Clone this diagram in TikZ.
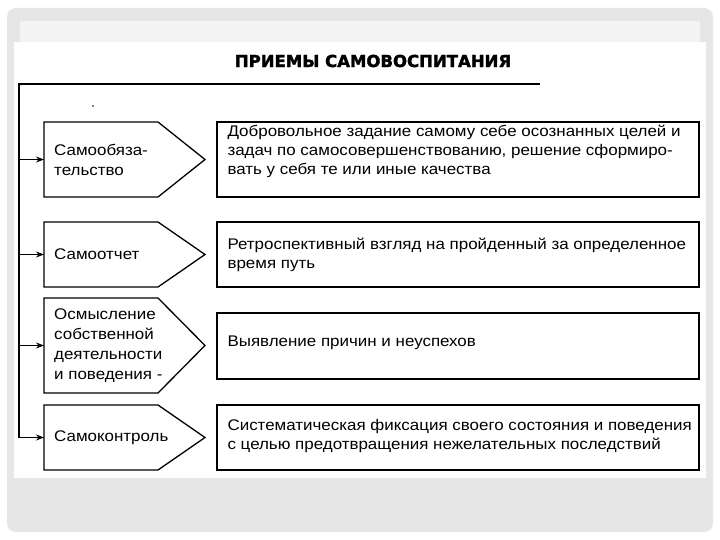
\documentclass[tikz,border=0pt]{standalone}
\usepackage{fontspec}
\setmainfont{Liberation Sans}[FakeStretch=1.1]
\newfontfamily\titlefont{DejaVu Sans}[FakeBold=2]
\usetikzlibrary{positioning,arrows.meta}
\definecolor{slidegray}{HTML}{E6E6E6}
\definecolor{stripgray}{HTML}{F4F4F4}

\tikzset{
  line/.style={line width=1.2pt},
  pent/.style={line width=1.3pt, fill=white},
  descbox/.style={draw, line width=1.3pt, fill=white, minimum width=482pt, inner sep=0pt},
  lbl/.style={anchor=west, align=left, inner sep=0pt, font=\fontsize{15.4}{20}\selectfont},
  desc/.style={anchor=west, align=left, inner sep=0pt, font=\fontsize{15.4}{19}\selectfont},
}

\begin{document}
\begin{tikzpicture}[x=1pt, y=-1pt, >={Stealth[length=8pt,width=6pt]}]
\useasboundingbox (0,0) rectangle (720,540);
% slide background
\fill[white] (0,0) rectangle (720,540);
\fill[slidegray, rounded corners=9pt] (7,8) rectangle (713,532);
\fill[stripgray] (20,21) rectangle (700,42);
\fill[white] (14,42) rectangle (706,478);

% title
\node[font=\titlefont\bfseries\fontsize{16.5}{18}\selectfont] (title) at (373,61) {ПРИЕМЫ САМОВОСПИТАНИЯ};

% left rail
\coordinate (top) at (19,84);
\coordinate (end) at (540,84);
\coordinate (v1) at (19,159.5);
\coordinate (v2) at (19,254.5);
\coordinate (v3) at (19,345.5);
\coordinate (v4) at (19,437.5);
\draw[line] (end) -- (top) -- (v4);
\fill (93,106) circle (0.9pt);

% pentagons
\draw[pent] (44,122) -- (158,122) -- (205,159.5) -- (158,197) -- (44,197) -- cycle;
\draw[pent] (44,222) -- (158,222) -- (205,254.5) -- (158,287) -- (44,287) -- cycle;
\draw[pent] (44,298) -- (158,298) -- (205,345.5) -- (158,393) -- (44,393) -- cycle;
\draw[pent] (44,405) -- (158,405) -- (205,437.5) -- (158,470) -- (44,470) -- cycle;
\coordinate (p1) at (44,159.5);
\coordinate (p2) at (44,254.5);
\coordinate (p3) at (44,345.5);
\coordinate (p4) at (44,437.5);

\node[lbl] (s1) at (54,159.5) {Самообяза-\\тельство};
\node[lbl] (s2) at (54,254.5) {Самоотчет};
\node[lbl] (s3) at (54,345.5) {Осмысление\\собственной\\деятельности\\и поведения -};
\node[lbl] (s4) at (54,437.5) {Самоконтроль};

\draw[line,->] (v1) -- (p1);
\draw[line,->] (v2) -- (p2);
\draw[line,->] (v3) -- (p3);
\draw[line,->] (v4) -- (p4);

% descriptions
\node[descbox, minimum height=75pt] (d1) at (458,159.5) {};
\node[descbox, minimum height=65pt] (d2) at (458,254.5) {};
\node[descbox, minimum height=66pt] (d3) at (458,346) {};
\node[descbox, minimum height=65pt] (d4) at (458,437.5) {};

\node[desc] (t1) at ([xshift=11pt, yshift=8.5pt]d1.west) {Добровольное задание самому себе осознанных целей и\\задач по самосовершенствованию, решение сформиро-\\вать у себя те или иные качества};
\node[desc] (t2) at ([xshift=11pt]d2.west) {Ретроспективный взгляд на пройденный за определенное\\время путь};
\node[desc] (t3) at ([xshift=11pt, yshift=3pt]d3.west) {Выявление причин и неуспехов};
\node[desc] (t4) at ([xshift=11pt, yshift=1pt]d4.west) {Систематическая фиксация своего состояния и поведения\\с целью предотвращения нежелательных последствий};
\end{tikzpicture}
\end{document}
